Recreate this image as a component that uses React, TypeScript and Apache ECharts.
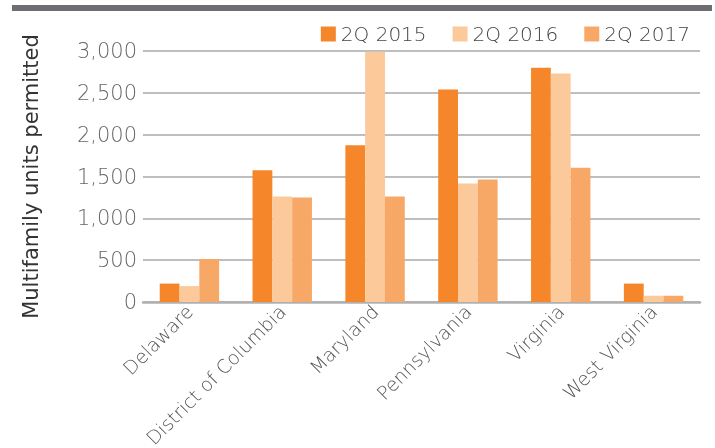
import React, { useEffect, useRef } from "react";
import * as echarts from "echarts";

const categories = ["Delaware", "District of Columbia", "Maryland", "Pennsylvania", "Virginia", "West Virginia"];
const seriesNames = ["2Q 2015", "2Q 2016", "2Q 2017"];
const values2015 = [220, 1575, 1875, 2540, 2800, 220];
const values2016 = [190, 1260, 2990, 1415, 2730, 75];
const values2017 = [515, 1250, 1260, 1465, 1605, 75];
const colors = ["#f5862a", "#fcc99b", "#f8a866"];
const yAxisTitle = "Multifamily units permitted";

export default function App() {
  const ref = useRef<HTMLDivElement>(null);
  useEffect(() => {
    if (!ref.current) return;
    const chart = echarts.init(ref.current, null, { renderer: "svg" });
    const font = "'DejaVu Sans', sans-serif";
    const data = [values2015, values2016, values2017];
    chart.setOption({
      animation: false,
      textStyle: { fontFamily: font },
      graphic: [
        { type: "rect", shape: { x: 12, y: 5, width: 700, height: 6 }, style: { fill: "#6d6e71" } },
      ],
      legend: {
        top: 24,
        right: 25,
        padding: 0,
        itemWidth: 15,
        itemHeight: 15,
        itemGap: 26,
        icon: "rect",
        textStyle: { fontSize: 20, color: "#444", fontWeight: 200, fontFamily: font },
        data: seriesNames,
      },
      grid: { left: 143, right: 15, top: 51, bottom: 146, outerBoundsMode: "none", containLabel: false },
      xAxis: {
        type: "category",
        data: categories,
        axisTick: { show: false },
        axisLine: { lineStyle: { color: "#b0b0b0", width: 2.5 } },
        axisLabel: { rotate: 45, fontSize: 19, color: "#555", fontWeight: 200, margin: 6, interval: 0 },
      },
      yAxis: {
        type: "value",
        min: 0,
        max: 3000,
        interval: 500,
        name: yAxisTitle,
        nameLocation: "middle",
        nameGap: 102,
        nameTextStyle: { fontSize: 21, color: "#333", fontWeight: 400, fontFamily: font },
        axisLine: { show: false },
        axisTick: { show: false },
        splitLine: { lineStyle: { color: "#a8a8a8", width: 1.5 } },
        axisLabel: {
          fontSize: 21,
          color: "#666",
          fontWeight: 200,
          margin: 6,
          formatter: (v: number) => v.toLocaleString("en-US"),
        },
      },
      series: seriesNames.map((name, i) => ({
        name,
        type: "bar",
        data: data[i],
        itemStyle: { color: colors[i] },
        barGap: "0%",
        barCategoryGap: "36%",
      })),
    });
    return () => chart.dispose();
  }, []);
  return <div ref={ref} style={{ position: "fixed", left: 0, top: 0, width: 715, height: 448 }} />;
}
